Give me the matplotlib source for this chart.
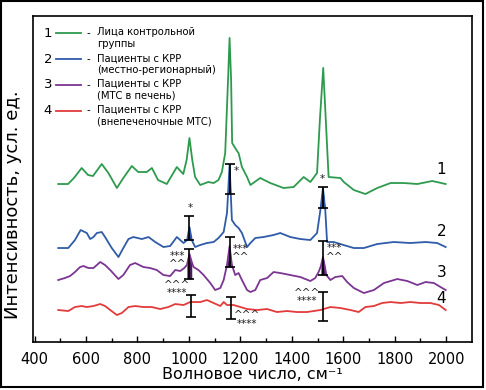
import matplotlib
matplotlib.use("Agg")
import matplotlib.pyplot as plt
from matplotlib.lines import Line2D
from matplotlib.patches import Rectangle
import numpy as np

# спектры (волновое число, см-1 / интенсивность, усл. ед.)
wn1 = [492, 530, 553, 583, 608, 627, 661, 687, 720, 745, 778, 803, 836, 856, 880, 914, 953, 978,
       991, 1002, 1013, 1024, 1044, 1075, 1096, 1115, 1128, 1141, 1152, 1158, 1164, 1168, 1187, 1193,
       1206, 1226, 1239, 1277, 1316, 1368, 1407, 1446, 1472, 1498, 1509, 1522, 1532, 1543, 1589, 1602,
       1641, 1686, 1732, 1784, 1835, 1888, 1946, 1998]
i1 = [15.8, 15.8, 16.4, 17.4, 16.7, 16.6, 17.8, 16.9, 15.4, 16.4, 17.6, 17.0, 17.0, 17.4, 16.2, 15.8, 17.5, 16.8,
      18.2, 20.4, 18.2, 16.5, 15.7, 16.0, 15.9, 16.2, 17.0, 18.9, 26.2, 30.4, 26.2, 19.9, 19.1, 18.9,
      17.5, 16.5, 15.7, 16.4, 15.9, 15.4, 15.5, 16.5, 16.0, 16.9, 22.2, 27.4, 22.2, 16.5, 16.4, 16.0,
      15.2, 14.8, 15.4, 15.9, 15.9, 15.8, 16.1, 15.8]

wn2 = [492, 531, 557, 579, 603, 616, 629, 642, 661, 674, 700, 726, 745, 765, 784, 817, 843, 869, 901, 927,
       953, 979, 993, 1002, 1011, 1024, 1044, 1070, 1096, 1115, 1135, 1148, 1158, 1167, 1180, 1193, 1206,
       1226, 1239, 1258, 1290, 1329, 1355, 1394, 1433, 1472, 1498, 1511, 1521, 1530, 1537, 1563, 1601,
       1641, 1680, 1732, 1796, 1861, 1920, 1965, 1998]
i2 = [9.4, 9.4, 10.2, 11.2, 10.9, 10.3, 10.5, 10.9, 11.0, 10.5, 9.4, 8.5, 9.4, 10.3, 10.5, 10.3, 10.5, 10.0, 9.5, 9.6,
      10.5, 9.9, 10.2, 11.5, 10.2, 9.5, 9.7, 9.9, 10.0, 10.4, 11.0, 12.9, 17.7, 12.2, 11.7, 11.4, 10.9,
      9.5, 9.9, 10.4, 10.5, 10.7, 10.9, 10.5, 10.3, 10.2, 10.9, 13.2, 15.4, 13.2, 10.0, 10.0, 9.7,
      9.4, 9.4, 9.8, 10.0, 9.9, 10.0, 9.9, 9.5]

wn3 = [492, 518, 538, 557, 577, 590, 609, 629, 655, 674, 694, 726, 745, 771, 791, 823, 849, 875, 901, 927,
       947, 966, 982, 992, 1002, 1011, 1018, 1037, 1057, 1083, 1102, 1122, 1135, 1148, 1158, 1167, 1180,
       1193, 1206, 1226, 1239, 1258, 1277, 1304, 1329, 1355, 1394, 1433, 1472, 1491, 1504, 1513, 1521,
       1528, 1534, 1550, 1569, 1596, 1615, 1641, 1680, 1719, 1758, 1810, 1849, 1888, 1920, 1952, 1978, 1998]
i3 = [6.2, 6.4, 6.6, 7.0, 7.5, 7.6, 7.4, 7.4, 8.0, 7.7, 7.2, 6.3, 6.7, 7.7, 7.9, 7.5, 7.4, 7.2, 6.7, 6.6,
      7.2, 7.1, 7.4, 7.7, 8.8, 8.0, 7.5, 7.2, 6.7, 5.9, 5.2, 5.4, 6.2, 7.7, 9.6, 7.7, 6.7,
      6.9, 6.2, 5.2, 5.0, 5.2, 6.2, 6.4, 7.0, 6.9, 6.7, 6.5, 6.1, 6.4, 7.0, 7.6, 8.5,
      7.6, 6.7, 6.2, 6.5, 6.6, 6.0, 5.4, 4.9, 5.2, 5.9, 6.3, 6.1, 5.7, 6.0, 5.9, 5.5, 5.2]

wn4 = [492, 531, 557, 583, 603, 629, 655, 674, 694, 720, 739, 765, 791, 823, 856, 888, 920, 947, 979,
       1005, 1044, 1070, 1096, 1122, 1135, 1148, 1174, 1200, 1226, 1265, 1304, 1342, 1381, 1420, 1459,
       1511, 1550, 1589, 1628, 1660, 1686, 1719, 1751, 1784, 1823, 1861, 1900, 1939, 1972, 1998]
i4 = [3.2, 3.1, 3.5, 3.6, 3.5, 3.6, 3.8, 3.6, 3.2, 2.7, 2.9, 3.5, 3.6, 3.5, 3.5, 3.3, 3.5, 3.8, 3.7,
      4.0, 4.0, 4.2, 3.9, 3.6, 4.0, 3.7, 3.7, 3.5, 3.3, 3.2, 3.3, 3.0, 3.1, 3.0, 3.0,
      3.2, 3.5, 3.4, 3.2, 3.0, 3.5, 3.6, 3.9, 4.0, 3.9, 4.0, 3.9, 3.9, 3.7, 3.2]

# разброс интенсивности пиков (нижняя / верхняя граница)
bar_x2, bar_lo2, bar_hi2 = [1002, 1158, 1521], [10.2, 14.8, 13.4], [12.6, 17.8, 15.5]
bar_x3, bar_lo3, bar_hi3 = [1002, 1158, 1521], [6.3, 7.5, 6.7], [9.3, 10.5, 10.1]
bar_x4, bar_lo4, bar_hi4 = [1008, 1163, 1521], [2.5, 2.3, 2.1], [4.7, 4.5, 5.0]

legend_nums = ["1", "2", "3", "4"]
legend_texts = ["Лица контрольной\nгруппы",
                "Пациенты с КРР\n(местно-регионарный)",
                "Пациенты с КРР\n(МТС в печень)",
                "Пациенты с КРР\n(внепеченочные МТС)"]
colors = ["#2e9a4e", "#2f5ba8", "#7b3592", "#e23b3b"]
dark2, dark3 = "#1c2a78", "#4a1a5a"

# значимость: (волновое число, интенсивность, текст)
marks = [(1184, 17.1, "*"), (1005, 13.4, "*"), (1520, 16.3, "*"),
         (957, 8.2, "***\n^^"), (1200, 8.9, "***\n^^"), (1566, 8.95, "***\n^^"),
         (955, 5.3, "^^^\n****"), (1225, 2.25, "^^^\n****"), (1459, 4.5, "^^^\n****")]
curve_labels = [(1982, 17.3, "1"), (1982, 11.1, "2"), (1982, 7.0, "3"), (1982, 4.4, "4")]

fig = plt.figure(figsize=(4.86, 3.9), dpi=100)
ax = fig.add_axes([0.0685, 0.123, 0.9025, 0.836])

series = [(wn1, i1), (wn2, i2), (wn3, i3), (wn4, i4)]
for (x, y), c in zip(series, colors):
    ax.plot(x, y, color=c, lw=1.3)

# затемнение вершин пиков внутри планок
for x, y, bx, blo, col in [(wn2, i2, bar_x2, bar_lo2, dark2), (wn3, i3, bar_x3, bar_lo3, dark3)]:
    x, y = np.array(x), np.array(y)
    for p, lo in zip(bx, blo):
        m = np.abs(x - p) < 15
        ax.fill_between(x[m], y[m], lo, where=y[m] > lo, interpolate=True, color=col, lw=0)

for bx, blo, bhi in [(bar_x2, bar_lo2, bar_hi2), (bar_x3, bar_lo3, bar_hi3), (bar_x4, bar_lo4, bar_hi4)]:
    blo, bhi = np.array(blo), np.array(bhi)
    ax.errorbar(bx, (blo + bhi) / 2, yerr=(bhi - blo) / 2, fmt="none", ecolor="black",
                elinewidth=1.2, capsize=3.5, capthick=1.2)

for x, y, t in marks:
    ax.text(x, y, t, ha="center", va="center", fontsize=7.5, color="#222222",
            linespacing=0.8)

for x, y, t in curve_labels:
    ax.text(x, y, t, ha="center", va="center", fontsize=11)

# легенда
for k, (n, t, c) in enumerate(zip(legend_nums, legend_texts, colors)):
    yy = 0.947 - k * 0.079
    ax.text(0.033, yy, n, transform=ax.transAxes, ha="center", va="center", fontsize=9.5)
    ax.add_line(Line2D([0.052, 0.109], [yy, yy], transform=ax.transAxes, color=c, lw=1.3))
    ax.text(0.125, yy, "-", transform=ax.transAxes, ha="center", va="center", fontsize=7.5)
    ax.text(0.145, yy + 0.018, t, transform=ax.transAxes, ha="left", va="top",
            fontsize=7.2, linespacing=1.25)

ax.set_xlim(395, 2100)
ax.set_ylim(0, 32.6)
ax.set_xticks(range(400, 2001, 200))
ax.set_xticks(range(500, 2001, 200), minor=True)
ax.tick_params(axis="x", which="both", direction="in", pad=7, labelsize=10.5)
ax.tick_params(axis="x", which="major", length=4, width=1)
ax.tick_params(axis="x", which="minor", length=3, width=1)
ax.set_yticks([])
for s in ax.spines.values():
    s.set_linewidth(1.2)

ax.set_xlabel("Волновое число, см⁻¹", fontsize=11.5, labelpad=0)
ax.set_ylabel("Интенсивность, усл. ед.", fontsize=13)
ax.yaxis.set_label_coords(-0.026, 0.42)

fig.patches.append(Rectangle((0.003, 0.007), 0.99, 0.99, transform=fig.transFigure,
                             fill=False, lw=1.5, edgecolor="black"))

fig.savefig("out.png", dpi=100)
